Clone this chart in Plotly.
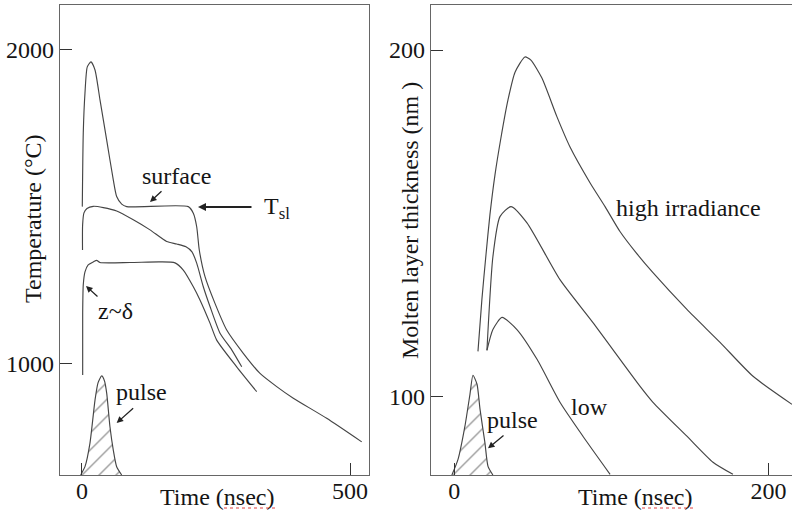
import plotly.graph_objects as go

# ---------------- data (left panel: temperature, deg C vs time, nsec) ----------------
surface_t = [0.6, 2.4, 5.6, 9.9, 16.8, 24.3, 33.6, 46.1, 58.4, 64.7, 74.1, 83.4, 198.3, 207.7,
             214.0, 218.8, 229.5, 248.1, 270.0, 300.9, 332.1, 363.2, 394.2, 456.5, 521.8]
surface_T = [1501, 1736, 1863, 1946, 1962, 1936, 1841, 1713, 1586, 1533, 1509, 1501, 1501, 1480,
             1437, 1363, 1278, 1193, 1108, 1034, 970, 928, 891, 827, 752]

middle_t = [1.0, 1.2, 3.7, 9.3, 21.1, 39.7, 64.7, 95.7, 126.9, 158.0, 176.7, 194.0, 205.2,
            214.0, 226.3, 238.8, 257.5, 279.3, 298.0]
middle_T = [1363, 1443, 1481, 1495, 1502, 1498, 1487, 1459, 1427, 1390, 1382, 1373, 1357,
            1321, 1246, 1183, 1098, 1045, 991]

deep_t = [1.3, 1.3, 2.4, 5.6, 11.2, 21.1, 27.4, 33.6, 89.6, 145.5, 173.5, 189.0, 207.7,
          220.1, 238.8, 251.3, 288.6, 325.9]
deep_T = [965, 1162, 1252, 1293, 1315, 1325, 1330, 1323, 1323, 1325, 1322, 1299, 1246,
          1204, 1130, 1076, 991, 912]

pulseL_t = [-2.4, 5.6, 14.9, 24.3, 29.9, 36.8, 42.0, 46.1, 52.2, 58.4, 64.7, 74.1]
pulseL_T = [646.5, 673, 748, 885, 940, 962, 946, 907, 800, 726, 673, 646.5]

left_xticks = [0, 500]
left_yticks = [1000, 2000]

# ---------------- data (right panel: molten layer thickness, nm vs time, nsec) ----------------
high_t = [15.1, 17.6, 20.2, 22.7, 25.9, 29.7, 34.2, 38.7, 45.0, 48.8, 55.8, 65.4, 73.7, 86.4,
          96.0, 105.5, 115.7, 126.5, 148.1, 169.2, 190.2, 215.0]
high_d = [113.0, 128.0, 140.9, 152.4, 163.9, 174.6, 185.6, 193.6, 198.0, 197.1, 191.9, 180.7,
          172.0, 161.7, 154.8, 147.6, 141.5, 135.7, 125.1, 115.6, 105.8, 97.7]

mid_t = [20.8, 24.6, 29.1, 36.1, 46.3, 67.3, 88.3, 118.3, 126.5, 148.1, 164.7, 177.4]
mid_d = [113.3, 140.3, 151.9, 154.8, 150.1, 133.7, 121.3, 102.9, 98.3, 88.5, 81.0, 77.5]

low_t = [20.8, 24.6, 30.4, 39.9, 52.7, 67.3, 81.9, 99.2]
low_d = [113.3, 119.3, 122.8, 119.3, 110.7, 98.3, 88.5, 77.5]

pulseR_t = [-1.5, 2.4, 6.8, 10.0, 11.9, 14.5, 16.4, 19.5, 21.5, 24.6]
pulseR_d = [77.3, 81.8, 91.4, 100.6, 106.1, 103.5, 96.3, 86.7, 79.8, 77.3]

right_xticks = [0, 200]
right_yticks = [100, 200]

# ---------------- styling ----------------
FONT = "Liberation Serif, Times New Roman, serif"
LINE = "#454545"
TXT = "#151515"
FRAME = "#666666"

fig = go.Figure()

def curve(x, y, xa, ya):
    fig.add_trace(go.Scatter(x=x, y=y, xaxis=xa, yaxis=ya, mode="lines",
                             line=dict(color=LINE, width=1.15, shape="spline", smoothing=0.6),
                             hoverinfo="skip", showlegend=False))

def pulse(x, y, xa, ya):
    fig.add_trace(go.Scatter(x=x, y=y, xaxis=xa, yaxis=ya, mode="lines", fill="toself",
                             fillcolor="rgba(0,0,0,0)",
                             fillpattern=dict(shape="/", size=12, solidity=0.12,
                                              fgcolor="#404040", bgcolor="rgba(255,255,255,0)"),
                             line=dict(color=LINE, width=1.15, shape="spline", smoothing=0.6),
                             hoverinfo="skip", showlegend=False))

pulse(pulseL_t, pulseL_T, "x", "y")
curve(surface_t, surface_T, "x", "y")
curve(middle_t, middle_T, "x", "y")
curve(deep_t, deep_T, "x", "y")

pulse(pulseR_t, pulseR_d, "x2", "y2")
curve(high_t, high_d, "x2", "y2")
curve(mid_t, mid_d, "x2", "y2")
curve(low_t, low_d, "x2", "y2")

axis_common = dict(showgrid=False, zeroline=False, showline=True, linecolor=FRAME, linewidth=1.3,
                   ticks="inside", ticklen=12, tickwidth=1.2, tickcolor="#333333",
                   tickfont=dict(family=FONT, size=24, color=TXT), fixedrange=True)

fig.update_layout(
    width=792, height=512,
    margin=dict(l=0, r=0, t=0, b=0),
    paper_bgcolor="white", plot_bgcolor="white",
    xaxis=dict(domain=[60 / 792, 369 / 792], range=[-41, 535.4], anchor="y",
               tickvals=left_xticks, mirror=True, ticklabelstandoff=-6, **axis_common),
    yaxis=dict(domain=[1 - 475 / 512, 1 - 5 / 512], range=[646.5, 2143], anchor="x",
               tickvals=left_yticks, mirror=True, **axis_common),
    xaxis2=dict(domain=[431 / 792, 1.0], range=[-14.8, 215], anchor="y2",
                tickvals=right_xticks, mirror=True, ticklabelstandoff=-6, **axis_common),
    yaxis2=dict(domain=[1 - 475 / 512, 1 - 5 / 512], range=[77.3, 213], anchor="x2",
                tickvals=right_yticks, mirror=False, **axis_common),
)

ann = []
def text(x, y, t, xref, yref, size=24, xanchor="center", yanchor="middle", angle=0):
    ann.append(dict(x=x, y=y, xref=xref, yref=yref, text=t, showarrow=False,
                    xanchor=xanchor, yanchor=yanchor, textangle=angle,
                    font=dict(family=FONT, size=size, color=TXT)))

def arrow(x, y, ax, ay, xref, yref, width=1.3, size=1.0):
    ann.append(dict(x=x, y=y, xref=xref, yref=yref, text="", showarrow=True,
                    ax=ax, ay=ay, arrowhead=2, arrowsize=size, arrowwidth=width,
                    arrowcolor="#222222", standoff=0))

# axis titles
text(217 / 792, 1 - 497 / 512, "Time (nsec)", "paper", "paper")
text(635 / 792, 1 - 497 / 512, "Time (nsec)", "paper", "paper")
text(33 / 792, 1 - 219 / 512, "Temperature (°C)", "paper", "paper", angle=-90)
text(410 / 792, 1 - 220 / 512, "Molten layer thickness (nm )", "paper", "paper", angle=-90)

# left panel labels
text(177.2, 1598.7, "surface", "x", "y")
arrow(126.9, 1515.9, 13, -12, "x", "y")
text(335.8, 1497, "T<sub>sl</sub>", "x", "y", xanchor="left")
arrow(216.4, 1500, 55, 0, "x", "y", width=2.0, size=0.8)
text(61.6, 1168.8, "z~δ", "x", "y")
arrow(7.5, 1248.4, 13, 12, "x", "y")
text(111.9, 910.8, "pulse", "x", "y")
arrow(64.7, 812.1, 18, -16, "x", "y")

# right panel labels
text(149.4, 154.5, "high irradiance", "x2", "y2")
text(85.8, 96.8, "low", "x2", "y2")
text(36.8, 93.1, "pulse", "x2", "y2")
arrow(21.5, 85.0, 17, -14, "x2", "y2")

fig.update_layout(annotations=ann)

# spell-check style dotted underline seen under "nsec"
for x0, x1 in [(224, 276), (642, 695)]:
    fig.add_shape(type="line", xref="paper", yref="paper",
                  x0=x0 / 792, x1=x1 / 792, y0=1 - 508 / 512, y1=1 - 508 / 512,
                  line=dict(color="#e04040", width=1, dash="dot"))

fig.write_html("out.html", config={"displayModeBar": False})
